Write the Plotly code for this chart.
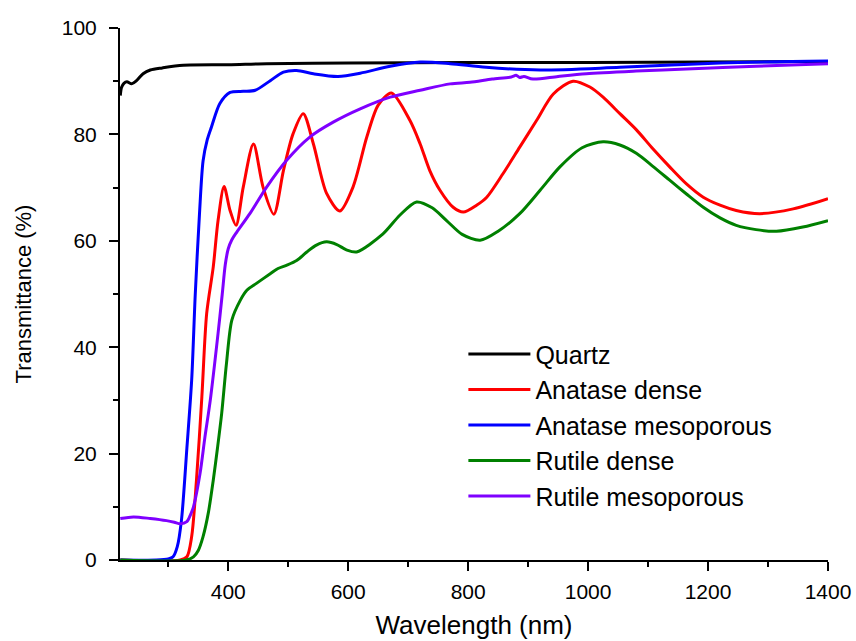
import plotly.graph_objects as go

# ---- Data ----
quartz_wl = [220, 222, 226, 231, 239, 247, 258, 270, 290, 325, 400, 464, 600, 800, 1000, 1200, 1400]
quartz_T = [87.3, 88.8, 89.6, 89.9, 89.5, 90.1, 91.4, 92.1, 92.5, 93.0, 93.1, 93.3, 93.4, 93.5, 93.5, 93.6, 93.7]

anat_dense_wl = [220, 320, 331, 339, 347, 356, 364, 375, 383, 393, 403, 413, 425, 442, 458, 476,
                 492, 508, 525, 542, 564, 586, 608, 631, 650, 672, 703, 720, 736, 753, 775, 792,
                 814, 831, 858, 886, 914, 942, 975, 1003, 1025, 1053, 1081, 1108, 1136, 1164, 1192,
                 1220, 1247, 1286, 1342, 1400]
anat_dense_T = [0, 0, 0.6, 4.4, 15, 30.7, 46.3, 55.1, 63.8, 70.2, 65.7, 62.9, 70.1, 78.2, 70.1, 65.0,
                73.2, 80.1, 83.9, 78.2, 68.9, 65.6, 70.1, 79.5, 85.5, 87.8, 82.6, 78.2, 73.2, 69.5, 66.3, 65.4,
                66.7, 68.2, 72.6, 77.6, 82.6, 87.6, 90.0, 88.9, 87.0, 83.9, 80.8, 77.3, 73.9, 70.7, 68.2,
                66.7, 65.7, 65.1, 66.0, 67.9]

anat_meso_wl = [220, 280, 300, 308, 315, 322, 331, 339, 345, 352, 358, 365, 372, 386, 403, 425, 445,
                470, 492, 514, 542, 583, 620, 670, 720, 770, 830, 920, 1053, 1220, 1400]
anat_meso_T = [0, 0, 0.2, 0.6, 2.5, 7.5, 21, 33.8, 50, 65, 75, 79, 81.4, 85.8, 87.9, 88.1, 88.3,
               90.1, 91.7, 92.0, 91.4, 90.9, 91.5, 92.8, 93.6, 93.3, 92.6, 92.1, 92.6, 93.4, 93.8]

rut_dense_wl = [220, 330, 342, 350, 358, 367, 375, 382, 389, 397, 406, 420, 431, 447, 470, 483,
                497, 514, 531, 547, 564, 581, 597, 614, 658, 686, 714, 740, 764, 790, 820, 850,
                886, 920, 953, 990, 1025, 1053, 1081, 1108, 1136, 1164, 1192, 1220, 1247, 1280,
                1314, 1358, 1400]
rut_dense_T = [0, 0, 0.6, 1.8, 4.4, 9, 15, 21, 27.5, 36.9, 45.1, 48.8, 50.7, 52.0, 53.8, 54.8,
               55.4, 56.3, 57.9, 59.2, 59.8, 59.3, 58.3, 57.9, 61.3, 64.8, 67.3, 66.2, 63.8, 61.2, 60.1, 61.8,
               65.1, 69.5, 73.9, 77.5, 78.6, 78.0, 76.4, 74.0, 71.4, 68.8, 66.3, 64.3, 62.9, 62.1,
               61.8, 62.6, 63.8]

rut_meso_wl = [220, 242, 270, 297, 310, 320, 331, 337, 342, 353, 361, 370, 383, 390, 395, 400, 406,
               414, 436, 464, 497, 536, 575, 620, 670, 720, 770, 803, 840, 872, 880, 886, 893,
               908, 950, 997, 1080, 1164, 1280, 1400]
rut_meso_T = [7.8, 8.1, 7.8, 7.4, 7.1, 6.8, 7.2, 8.5, 10, 16.3, 23, 30, 42.6, 50, 55.5, 58.5, 60.2,
              61.6, 65.1, 70.1, 75.1, 79.5, 82.3, 84.8, 87.0, 88.3, 89.5, 89.8, 90.4, 90.8, 91.1, 90.7, 90.9,
              90.4, 90.9, 91.4, 91.9, 92.3, 92.8, 93.3]

series = [
    ("Quartz", quartz_wl, quartz_T, "#000000"),
    ("Anatase dense", anat_dense_wl, anat_dense_T, "#FF0000"),
    ("Anatase mesoporous", anat_meso_wl, anat_meso_T, "#0000FF"),
    ("Rutile dense", rut_dense_wl, rut_dense_T, "#008000"),
    ("Rutile mesoporous", rut_meso_wl, rut_meso_T, "#7F00FF"),
]

x_ticks = [400, 600, 800, 1000, 1200, 1400]
y_ticks = [0, 20, 40, 60, 80, 100]

FONT = "Liberation Sans, Arial, sans-serif"

fig = go.Figure()
for name, wl, t, col in series:
    fig.add_trace(go.Scatter(x=wl, y=t, mode="lines", name=name,
                             line=dict(color=col, width=3, shape="spline", smoothing=0.8)))

fig.update_layout(
    width=856, height=641,
    margin=dict(l=120, r=28, t=28, b=81),
    paper_bgcolor="white", plot_bgcolor="white",
    font=dict(family=FONT, color="black", size=21),
    showlegend=True,
    legend=dict(x=0.485, y=0.43, xanchor="left", yanchor="top",
                font=dict(family=FONT, size=25, color="black"),
                bgcolor="rgba(0,0,0,0)", itemwidth=62, tracegroupgap=0),
)
fig.update_xaxes(
    range=[219.5, 1400], tickvals=x_ticks, showgrid=False, zeroline=False,
    showline=True, linecolor="black", linewidth=2,
    ticks="outside", ticklen=9, tickwidth=2, tickcolor="black",
    minor=dict(ticks="outside", ticklen=5, tickwidth=2, tickcolor="black", dtick=100, tick0=0),
    tickfont=dict(family=FONT, size=21, color="black"),
    ticklabelstandoff=3, automargin=False,
    title=dict(text="Wavelength (nm)", font=dict(family=FONT, size=26, color="black"), standoff=14),
)
fig.update_yaxes(
    range=[0, 100], tickvals=y_ticks, showgrid=False, zeroline=False,
    showline=True, linecolor="black", linewidth=2,
    ticks="outside", ticklen=9, tickwidth=2, tickcolor="black",
    minor=dict(ticks="outside", ticklen=5, tickwidth=2, tickcolor="black", dtick=10, tick0=0),
    tickfont=dict(family=FONT, size=21, color="black"),
    ticklabelstandoff=8, automargin=False,
    title=dict(text="Transmittance (%)", font=dict(family=FONT, size=22, color="black"), standoff=24),
)

fig.write_html("out.html", config={"displayModeBar": False},
               post_script="document.body.style.margin='0';")
